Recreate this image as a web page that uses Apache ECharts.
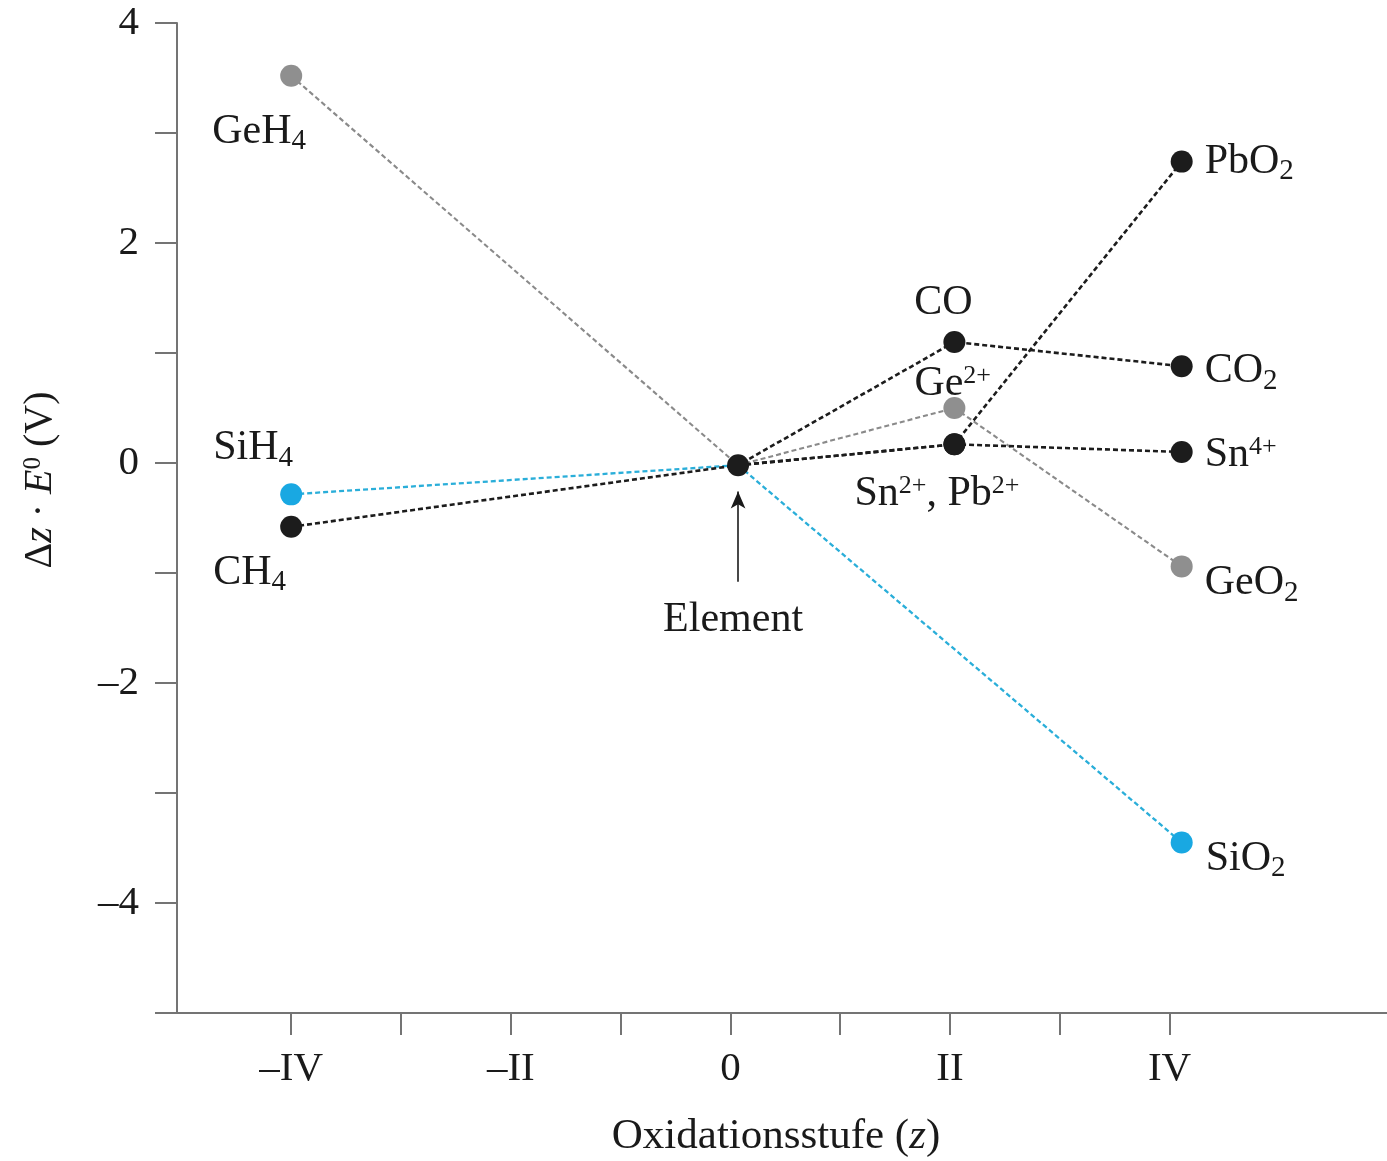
<!DOCTYPE html>
<html>
<head>
<meta charset="utf-8">
<script src="https://cdn.jsdelivr.net/npm/echarts@6/dist/echarts.min.js"></script>
<style>html,body{margin:0;padding:0;background:#fff}#c{width:1387px;height:1161px}</style>
</head>
<body>
<div id="c"></div>
<script>
// ---- data ----
const xTickValues = [-4, -2, 0, 2, 4];
const xTickLabels = ['–IV', '–II', '0', 'II', 'IV'];
const yTickValues = [-4, -2, 0, 2, 4];
const yTickLabels = ['–4', '–2', '0', '2', '4'];

const cNames = ['CH4', 'Element', 'CO', 'CO2'];
const cZ = [-4, 0.07, 2.04, 4.11];
const cE = [-0.58, -0.02, 1.10, 0.88];

const siNames = ['SiH4', 'Element', 'SiO2'];
const siZ = [-4, 0.07, 4.11];
const siE = [-0.285, -0.02, -3.45];

const geNames = ['GeH4', 'Element', 'Ge2+', 'GeO2'];
const geZ = [-4, 0.07, 2.04, 4.11];
const geE = [3.52, -0.02, 0.50, -0.94];

const snNames = ['Element', 'Sn2+, Pb2+', 'Sn4+'];
const snZ = [0.07, 2.04, 4.11];
const snE = [-0.02, 0.17, 0.10];

const pbNames = ['Element', 'Pb2+', 'PbO2'];
const pbZ = [0.07, 2.04, 4.11];
const pbE = [-0.02, 0.17, 2.74];

// arrow pointing at the element
const arrowZ = [0.07, 0.07];
const arrowE = [-1.08, -0.26];

// ---- presentation ----
const FONT = 'Liberation Serif';
const BLACK = '#1c1c1c', GRAY = '#8f8f8f', BLUE = '#19a8e2';

const labelText = {
  'GeH4': '{m|GeH}{sub|4}',
  'SiH4': '{m|SiH}{sub|4}',
  'CH4': '{m|CH}{sub|4}',
  'CO': '{m|CO}',
  'Ge2+': '{m|Ge}{sup|2+}',
  'Sn2+, Pb2+': '{m|Sn}{sup|2+}{m|, Pb}{sup|2+}',
  'PbO2': '{m|PbO}{sub|2}',
  'CO2': '{m|CO}{sub|2}',
  'Sn4+': '{m|Sn}{sup|4+}',
  'GeO2': '{m|GeO}{sub|2}',
  'SiO2': '{m|SiO}{sub|2}',
  'Element': '{m|Element}'
};
const labelPlace = {
  'GeH4': ['left', [-79, 56]],
  'SiH4': ['left', [-78, -46]],
  'CH4': ['left', [-78, 46]],
  'CO': ['center', [-11, -39]],
  'Ge2+': ['left', [-40, -24]],
  'Sn2+, Pb2+': ['left', [-100, 50]],
  'PbO2': ['left', [23, 0]],
  'CO2': ['left', [23, 5]],
  'Sn4+': ['left', [23, 3]],
  'GeO2': ['left', [23, 17]],
  'SiO2': ['left', [24, 16]],
  'Element': ['center', [-5, 155]]
};
const rich = {
  m: { fontFamily: FONT, fontSize: 42, lineHeight: 52, color: '#1a1a1a' },
  sub: { fontFamily: FONT, fontSize: 29, lineHeight: 32, padding: [20, 0, 0, 0], color: '#1a1a1a' },
  sup: { fontFamily: FONT, fontSize: 26, lineHeight: 32, padding: [2, 0, 18, 0], color: '#1a1a1a' }
};

function buildData(names, zs, es, opts) {
  return names.map((n, k) => {
    const item = { value: [zs[k], es[k]], name: n };
    if (n === 'Element' && opts.hideElement) item.symbol = 'none';
    if (opts.labels && opts.labels.indexOf(n) >= 0 && labelText[n]) {
      const p = labelPlace[n];
      item.label = {
        show: true, position: 'inside', align: p[0], verticalAlign: 'middle',
        offset: p[1], formatter: labelText[n], rich: rich
      };
    }
    return item;
  });
}

function lineSeries(name, names, zs, es, color, lineColor, width, opts, z) {
  return {
    name: name, type: 'line', z: z,
    data: buildData(names, zs, es, opts),
    symbol: 'circle', symbolSize: 22,
    itemStyle: { color: color },
    lineStyle: { color: lineColor, width: width, type: [5, 3] },
    label: { show: false },
    emphasis: { disabled: true },
    animation: false
  };
}

const chart = echarts.init(document.getElementById('c'), null, { renderer: 'canvas' });

const series = [
  lineSeries('Ge', geNames, geZ, geE, GRAY, '#8a8a8a', 2.1, { hideElement: true, labels: ['GeH4', 'Ge2+', 'GeO2'] }, 2),
  lineSeries('Si', siNames, siZ, siE, BLUE, '#2aaed9', 2.3, { hideElement: true, labels: ['SiH4', 'SiO2'] }, 2),
  lineSeries('Sn', snNames, snZ, snE, BLACK, BLACK, 2.6, { hideElement: true, labels: ['Sn2+, Pb2+', 'Sn4+'] }, 3),
  lineSeries('Pb', pbNames, pbZ, pbE, BLACK, BLACK, 2.6, { hideElement: true, labels: ['PbO2'] }, 3),
  lineSeries('C', cNames, cZ, cE, BLACK, BLACK, 2.6, { hideElement: false, labels: ['CH4', 'CO', 'CO2', 'Element'] }, 4)
];
series[4].markLine = {
  silent: true, animation: false,
  symbol: ['none', 'arrow'], symbolSize: [11, 17],
  label: { show: false },
  lineStyle: { color: '#1a1a1a', width: 1.6, type: 'solid' },
  data: [[{ coord: [arrowZ[0], arrowE[0]] }, { coord: [arrowZ[1], arrowE[1]] }]]
};

const axisColor = '#747474';

chart.setOption({
  backgroundColor: '#fff',
  animation: false,
  grid: { left: 177, right: 0, top: 23, bottom: 148, containLabel: false, outerBoundsMode: 'none' },
  xAxis: {
    type: 'value', min: -5.04, max: 5.98,
    axisLine: { onZero: false, lineStyle: { color: axisColor, width: 2 } },
    axisTick: { show: true, customValues: [-4, -3, -2, -1, 0, 1, 2, 3, 4], length: 22, inside: false, lineStyle: { color: axisColor, width: 2 } },
    axisLabel: {
      customValues: xTickValues, margin: 36,
      formatter: v => xTickLabels[xTickValues.indexOf(Math.round(v))],
      fontFamily: FONT, fontSize: 41, color: '#1a1a1a'
    },
    splitLine: { show: false },
    name: '{n|Oxidationsstufe (}{i|z}{n|)}',
    nameLocation: 'middle', nameGap: 102,
    nameTextStyle: {
      padding: [0, 12, 0, 0],
      rich: {
        n: { fontFamily: FONT, fontSize: 43, lineHeight: 44, color: '#1a1a1a' },
        i: { fontFamily: FONT, fontSize: 43, lineHeight: 44, fontStyle: 'italic', color: '#1a1a1a' }
      }
    }
  },
  yAxis: {
    type: 'value', min: -5, max: 4,
    axisLine: { onZero: false, lineStyle: { color: axisColor, width: 2 } },
    axisTick: { show: true, customValues: [-5, -4, -3, -2, -1, 0, 1, 2, 3, 4], length: 22, inside: false, lineStyle: { color: axisColor, width: 2 } },
    axisLabel: {
      customValues: yTickValues, margin: 38,
      formatter: v => yTickLabels[yTickValues.indexOf(Math.round(v))],
      fontFamily: FONT, fontSize: 41, color: '#1a1a1a'
    },
    splitLine: { show: false },
    name: '{n|Δ}{i|z}{n| · }{i|E}{sup|0}{n| (V)}',
    nameLocation: 'middle', nameGap: 112, nameRotate: 90,
    nameTextStyle: {
      padding: [0, 0, 0, 76],
      rich: {
        n: { fontFamily: FONT, fontSize: 40, lineHeight: 50, color: '#1a1a1a' },
        i: { fontFamily: FONT, fontSize: 40, lineHeight: 50, fontStyle: 'italic', color: '#1a1a1a' },
        sup: { fontFamily: FONT, fontSize: 25, lineHeight: 30, padding: [3, 0, 17, 0], color: '#1a1a1a' }
      }
    }
  },
  series: series
});
</script>
</body>
</html>
